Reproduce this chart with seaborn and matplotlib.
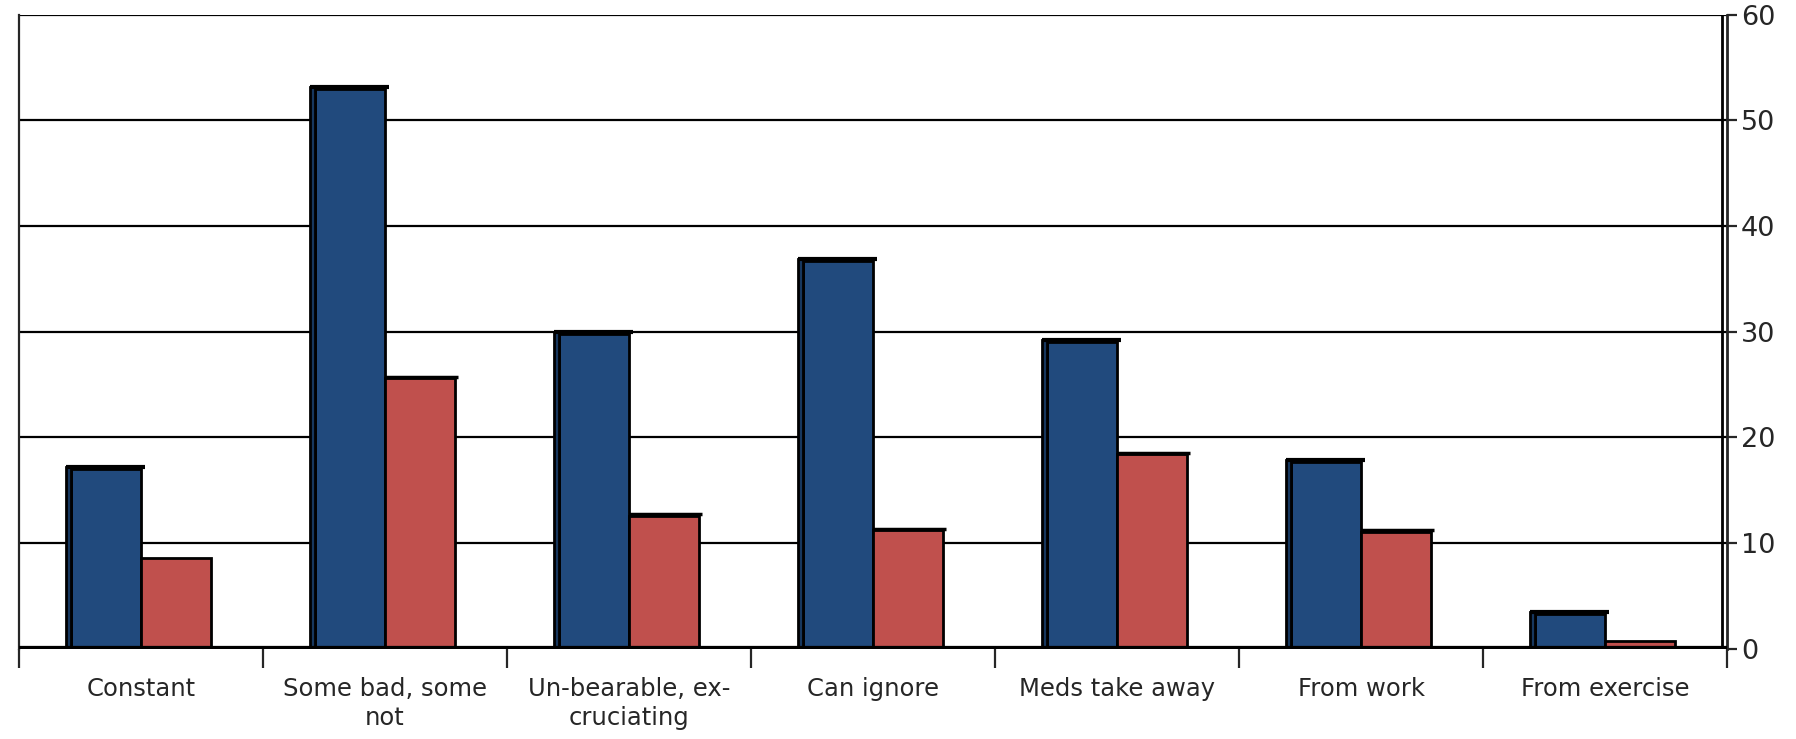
import pandas as pd
import numpy as np
import matplotlib.pyplot as plt
import seaborn as sns
from matplotlib.patches import Rectangle

# chart data
categories = ['Constant', 'Some bad, some\nnot', 'Un-bearable, ex-\ncruciating',
              'Can ignore', 'Meds take away', 'From work', 'From exercise']
series_blue = [17.0, 53.0, 29.8, 36.7, 29.0, 17.7, 3.3]
series_red = [8.6, 25.6, 12.6, 11.2, 18.4, 11.1, 0.7]
series_names = ['Series 1', 'Series 2']
y_ticks = [0, 10, 20, 30, 40, 50, 60]

df = pd.DataFrame({
    'category': categories * 2,
    'value': series_blue + series_red,
    'series': [series_names[0]] * len(categories) + [series_names[1]] * len(categories),
})

sns.set_style('white')
plt.rcParams['font.family'] = ['DejaVu Sans']

fig = plt.figure(figsize=(17.96, 7.39), dpi=100)
ax = fig.add_axes([0.0106, 0.122, 0.951, 0.858])

sns.barplot(data=df, x='category', y='value', hue='series', order=categories,
            hue_order=series_names, palette=['#214A7D', '#C0504D'],
            width=0.57, gap=0, edgecolor='black', linewidth=2, saturation=1,
            legend=False, ax=ax, zorder=3)

# fake 3D side strip on the blue bars and a heavier top edge
n = len(categories)
for i, p in enumerate(ax.patches[:2 * n]):
    x, w, h = p.get_x(), p.get_width(), p.get_height()
    if i < n:
        ax.add_patch(Rectangle((x - 0.024, 0), 0.024, h + 0.2, facecolor='#17375E',
                               edgecolor='black', linewidth=2, zorder=3))
        ax.plot([x - 0.024, x + w + 0.015], [h + 0.2, h + 0.2], color='black',
                linewidth=3, solid_capstyle='butt', zorder=4)
    elif h > 10:
        ax.plot([x, x + w + 0.012], [h + 0.15, h + 0.15], color='black',
                linewidth=2.5, solid_capstyle='butt', zorder=4)

ax.set_xlim(-0.5, n - 0.5)
ax.set_ylim(0, 60)

# gridlines and back wall
for t in y_ticks[1:]:
    ax.axhline(t, color='black', linewidth=1.6, zorder=1)
ax.axhline(0, color='black', linewidth=4.5, zorder=5)
ax.axvline(n - 0.52, color='black', linewidth=2, zorder=1)

for side in ['top', 'bottom']:
    ax.spines[side].set_visible(False)
ax.spines['left'].set_linewidth(1.6)
ax.spines['right'].set_linewidth(2)

ax.yaxis.tick_right()
ax.set_yticks(y_ticks)
ax.set_yticklabels([str(t) for t in y_ticks])
ax.tick_params(axis='y', direction='out', length=7, width=1.6, labelsize=19.5, pad=3)

ax.set_xticks(range(n))
ax.set_xticklabels(categories, fontsize=17.5, linespacing=1.3)
ax.set_xticks(np.arange(-0.5, n, 1), minor=True)
ax.tick_params(axis='x', which='major', length=0, pad=20)
ax.tick_params(axis='x', which='minor', direction='out', length=14, width=1.6,
               bottom=True)

ax.set_xlabel('')
ax.set_ylabel('')

fig.savefig('out.png', dpi=100)
